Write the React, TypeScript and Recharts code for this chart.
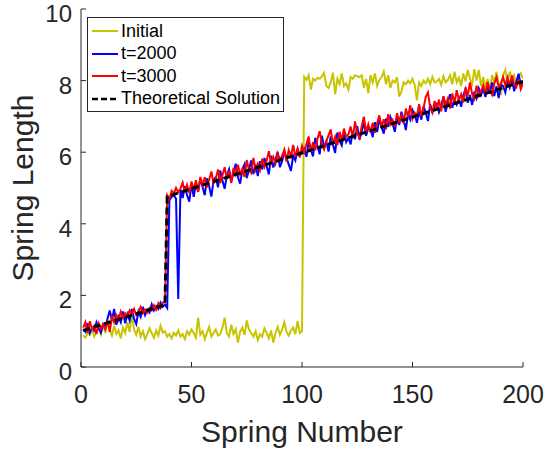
import { Legend, Line, LineChart, XAxis, YAxis } from 'recharts';

const FONT = '"Liberation Sans", Arial, Helvetica, sans-serif';
const INK = '#262626';

const YELLOW = '#c8c400';
const BLUE = '#0000ff';
const RED = '#ff0000';

// spring index 1..200
const springNumbers = Array.from({ length: 200 }, (_, i) => i + 1);

const xTicks = [0, 50, 100, 150, 200];
const yTicks = [0, 2, 4, 6, 8, 10];

// 200 springs each
const initialLengths = [
  0.88, 0.82, 0.95, 0.9, 1.05, 0.85, 0.98, 1.12, 0.92, 1.2,
  0.95, 1.3, 1.05, 0.88, 1.15, 0.92, 1.02, 0.8, 1.1, 0.95,
  1.25, 0.98, 1.48, 1.05, 0.9, 1.12, 0.85, 1.0, 0.78, 0.92,
  1.08, 0.95, 0.82, 1.02, 0.88, 1.15, 0.96, 1.0, 0.85, 0.92,
  0.8, 0.95, 0.88, 1.02, 0.85, 0.92, 0.78, 1.0, 0.9, 1.05,
  0.95, 0.82, 1.38, 0.9, 1.0, 0.78, 0.96, 1.12, 0.85, 0.95,
  1.05, 0.88, 0.92, 1.1, 1.38, 0.95, 0.85, 1.18, 0.92, 1.05,
  0.68, 0.98, 1.1, 0.9, 1.3, 1.05, 0.95, 0.85, 1.0, 0.75,
  0.92, 0.85, 1.08, 0.95, 0.8, 1.02, 0.68, 0.95, 1.12, 0.9,
  1.05, 1.25, 0.98, 0.88, 1.02, 1.1, 0.92, 1.28, 0.95, 1.0,
  8.1, 8.02, 8.15, 7.75, 8.05, 8.0, 8.08, 8.05, 8.12, 8.22,
  7.85, 7.8, 7.95, 8.22, 7.62, 8.05, 7.9, 8.2, 7.85, 7.92,
  7.75, 8.1, 8.05, 8.15, 8.12, 8.1, 8.15, 7.8, 8.05, 7.65,
  8.15, 7.95, 8.2, 7.85, 8.02, 8.1, 8.25, 7.9, 8.15, 7.8,
  8.0, 7.95, 8.1, 7.55, 7.7, 7.95, 7.9, 8.0, 7.92, 8.05,
  7.88, 7.45, 7.95, 7.85, 8.0, 7.92, 8.05, 7.9, 8.1, 7.95,
  7.98, 8.05, 7.88, 8.12, 7.95, 8.02, 8.15, 7.9, 8.25, 7.95,
  8.08, 7.85, 8.2, 7.98, 8.3, 8.05, 7.9, 8.32, 8.0, 8.3,
  7.85, 8.1, 7.8, 8.05, 7.7, 8.15, 7.95, 8.25, 7.9, 7.6,
  8.15, 8.3, 7.95, 8.25, 8.05, 8.15, 7.85, 8.1, 8.2, 8.05,
];

const t2000Lengths = [
  1.05, 0.98, 1.22, 0.95, 1.1, 1.02, 1.25, 1.08, 0.96, 1.2,
  1.12, 1.35, 1.58, 1.3, 1.62, 1.18, 1.4, 1.25, 1.55, 1.22,
  1.48, 1.3, 1.62, 1.35, 1.2, 1.55, 1.4, 1.68, 1.45, 1.6,
  1.52, 1.75, 1.58, 1.7, 1.62, 1.8, 1.68, 1.75, 1.65, 4.65,
  4.75, 4.8, 4.7, 1.9, 4.95, 4.72, 5.05, 4.8, 4.62, 5.12,
  4.75, 5.12, 4.89, 5.26, 5.03, 4.8, 5.27, 5.04, 4.76, 5.23,
  5.3, 5.02, 5.49, 5.21, 4.98, 5.35, 5.52, 5.19, 5.41, 5.68,
  5.3, 5.12, 5.49, 5.66, 5.28, 5.5, 5.77, 5.39, 5.66, 5.33,
  5.75, 5.52, 5.84, 5.61, 5.38, 5.9, 5.57, 5.79, 6.01, 5.58,
  5.75, 6.02, 5.84, 5.66, 5.48, 5.9, 5.77, 6.09, 5.91, 6.03,
  6.1, 5.87, 6.29, 6.06, 5.88, 6.4, 6.17, 5.94, 6.46, 6.13,
  6.3, 6.02, 6.44, 6.21, 5.98, 6.55, 6.32, 6.19, 6.56, 6.28,
  6.4, 6.22, 6.59, 6.36, 6.73, 6.35, 6.57, 6.84, 6.46, 6.68,
  6.65, 6.42, 6.84, 6.56, 6.93, 6.7, 6.52, 6.94, 6.71, 6.98,
  6.8, 6.57, 6.99, 6.76, 7.13, 6.9, 6.62, 7.09, 6.91, 7.18,
  7.05, 6.82, 7.14, 6.91, 7.28, 7.1, 6.87, 7.34, 7.11, 7.28,
  7.35, 7.12, 7.29, 7.56, 7.13, 7.4, 7.62, 7.24, 7.46, 7.33,
  7.5, 7.27, 7.59, 7.76, 7.38, 7.6, 7.32, 7.69, 7.51, 7.78,
  7.6, 7.77, 7.54, 7.86, 7.63, 7.95, 7.57, 7.84, 7.51, 7.88,
  7.85, 7.67, 7.99, 7.81, 8.08, 7.7, 7.97, 8.19, 7.86, 7.98,
];

const t3000Lengths = [
  1.1, 1.25, 0.95, 1.28, 1.05, 1.15, 0.92, 1.22, 1.08, 1.18,
  1.05, 1.3, 0.98, 1.4, 1.25, 1.45, 1.32, 1.55, 1.38, 1.5,
  1.42, 1.58, 1.48, 1.62, 1.45, 1.55, 1.68, 1.5, 1.6, 1.52,
  1.65, 1.58, 1.72, 1.6, 1.78, 1.65, 1.8, 1.82, 4.8, 4.7,
  4.92, 4.85, 5.0, 4.88, 4.98, 5.15, 4.87, 5.09, 4.86, 5.18,
  4.95, 5.22, 4.89, 5.31, 5.08, 5.3, 5.02, 5.24, 5.46, 5.13,
  5.25, 5.52, 5.14, 5.36, 5.58, 5.25, 5.47, 5.14, 5.56, 5.38,
  5.65, 5.37, 5.54, 5.31, 5.78, 5.5, 5.42, 5.84, 5.51, 5.68,
  5.5, 5.82, 5.59, 5.76, 6.03, 5.7, 5.87, 5.69, 5.96, 5.78,
  5.9, 6.07, 5.74, 6.06, 5.88, 6.2, 5.87, 6.09, 5.86, 6.18,
  6.0, 6.22, 6.44, 6.01, 6.28, 6.05, 6.37, 6.59, 6.21, 6.08,
  6.3, 6.47, 6.64, 6.21, 6.43, 6.2, 6.57, 6.34, 6.66, 6.43,
  6.5, 6.72, 6.39, 6.86, 6.53, 6.4, 6.72, 6.99, 6.56, 6.78,
  6.55, 6.82, 6.54, 6.81, 7.03, 6.7, 6.92, 6.64, 7.06, 6.78,
  6.9, 6.72, 7.09, 6.86, 7.03, 6.8, 7.22, 6.99, 7.31, 6.93,
  7.1, 7.02, 7.34, 7.01, 7.23, 7.55, 7.67, 7.24, 7.11, 7.43,
  7.2, 7.47, 7.14, 7.56, 7.33, 7.5, 7.22, 7.64, 7.36, 7.73,
  7.45, 7.62, 7.39, 7.81, 7.58, 7.95, 7.62, 7.49, 7.86, 7.58,
  7.7, 7.87, 7.64, 7.96, 7.73, 7.6, 7.92, 8.09, 7.81, 7.93,
  8.1, 7.87, 8.09, 7.87, 8.14, 7.9, 7.82, 8.04, 7.76, 7.93,
];

// theoretical solution: corner points of the dashed line
const theoryX = [1, 38, 39, 200];
const theoryY = [1.02, 1.74, 4.76, 7.98];

const toPoints = (xs: number[], ys: number[]) =>
  xs.map((x, i) => ({ x, y: ys[i] }));

const initialData = toPoints(springNumbers, initialLengths);
const t2000Data = toPoints(springNumbers, t2000Lengths);
const t3000Data = toPoints(springNumbers, t3000Lengths);
const theoryData = toPoints(theoryX, theoryY);

const legendItems = [
  { name: 'Initial', color: YELLOW, dash: undefined },
  { name: 't=2000', color: BLUE, dash: undefined },
  { name: 't=3000', color: RED, dash: undefined },
  { name: 'Theoretical Solution', color: '#000000', dash: '6 3' },
];

const BottomTick = ({ x, y, payload }: any) => (
  <g>
    <line x1={x} x2={x} y1={y} y2={y - 5} stroke={INK} />
    <text x={x} y={y + 36} textAnchor="middle" fontSize={25} fill={INK} fontFamily={FONT}>
      {payload.value}
    </text>
  </g>
);

const LeftTick = ({ x, y, payload }: any) => (
  <g>
    <line x1={x} x2={x + 5} y1={y} y2={y} stroke={INK} />
    <text x={x - 9} y={y + 13} textAnchor="end" fontSize={24} fill={INK} fontFamily={FONT}>
      {payload.value}
    </text>
  </g>
);

const TopTick = ({ x, y }: any) => (
  <line x1={x} x2={x} y1={y} y2={y + 5} stroke={INK} />
);

const RightTick = ({ x, y }: any) => (
  <line x1={x} x2={x - 5} y1={y} y2={y} stroke={INK} />
);

const XTitle = ({ viewBox }: any) => (
  <text
    x={viewBox.x + viewBox.width / 2}
    y={viewBox.y + viewBox.height - 10}
    textAnchor="middle"
    fontSize={30}
    fill={INK}
    fontFamily={FONT}
  >
    Spring Number
  </text>
);

const YTitle = ({ viewBox }: any) => {
  const cx = 33;
  const cy = viewBox.y + viewBox.height / 2;
  return (
    <text
      x={cx}
      y={cy}
      transform={`rotate(-90 ${cx} ${cy})`}
      textAnchor="middle"
      fontSize={30}
      fill={INK}
      fontFamily={FONT}
    >
      Spring Length
    </text>
  );
};

const LegendBox = () => (
  <div
    style={{
      border: `1px solid ${INK}`,
      background: '#fff',
      width: 195,
      padding: '2px 0 1px 0',
      fontFamily: FONT,
      fontSize: 18,
      color: '#000',
    }}
  >
    {legendItems.map((item) => (
      <div
        key={item.name}
        style={{ display: 'flex', alignItems: 'center', height: 22.5, whiteSpace: 'nowrap' }}
      >
        <svg width={26} height={10} style={{ marginLeft: 4, marginRight: 3 }}>
          <line
            x1={0}
            x2={26}
            y1={5}
            y2={5}
            stroke={item.color}
            strokeWidth={item.dash ? 2.5 : 2}
            strokeDasharray={item.dash}
          />
        </svg>
        <span>{item.name}</span>
      </div>
    ))}
  </div>
);

export default function App() {
  return (
    <div style={{ position: 'absolute', left: 0, top: 0, background: '#fff' }}>
      <LineChart
        width={548}
        height={452}
        margin={{ top: 9, right: 25, bottom: 0, left: 0 }}
      >
        <XAxis
          dataKey="x"
          type="number"
          domain={[0, 200]}
          ticks={xTicks}
          interval={0}
          height={85}
          tickSize={0}
          tickMargin={0}
          tickLine={false}
          axisLine={{ stroke: INK }}
          tick={(p: any) => <BottomTick {...p} />}
          label={(p: any) => <XTitle {...p} />}
          allowDataOverflow
        />
        <XAxis
          xAxisId="top"
          orientation="top"
          dataKey="x"
          type="number"
          domain={[0, 200]}
          ticks={xTicks}
          interval={0}
          height={0}
          tickSize={0}
          tickMargin={0}
          tickLine={false}
          axisLine={{ stroke: INK }}
          tick={(p: any) => <TopTick {...p} />}
          allowDataOverflow
        />
        <YAxis
          type="number"
          domain={[0, 10]}
          ticks={yTicks}
          interval={0}
          width={81}
          tickSize={0}
          tickMargin={0}
          tickLine={false}
          axisLine={{ stroke: INK }}
          tick={(p: any) => <LeftTick {...p} />}
          label={(p: any) => <YTitle {...p} />}
          allowDataOverflow
        />
        <YAxis
          yAxisId="right"
          orientation="right"
          type="number"
          domain={[0, 10]}
          ticks={yTicks}
          interval={0}
          width={0}
          tickSize={0}
          tickMargin={0}
          tickLine={false}
          axisLine={{ stroke: INK }}
          tick={(p: any) => <RightTick {...p} />}
          allowDataOverflow
        />
        <Legend
          layout="horizontal"
          verticalAlign="middle"
          align="center"
          content={() => <LegendBox />}
          wrapperStyle={{ left: 87, top: 17, width: 197, height: 'auto' }}
        />
        <Line
          data={initialData}
          dataKey="y"
          name="Initial"
          type="linear"
          stroke={YELLOW}
          strokeWidth={2}
          dot={false}
          isAnimationActive={false}
        />
        <Line
          data={t2000Data}
          dataKey="y"
          name="t=2000"
          type="linear"
          stroke={BLUE}
          strokeWidth={2}
          dot={false}
          isAnimationActive={false}
        />
        <Line
          data={t3000Data}
          dataKey="y"
          name="t=3000"
          type="linear"
          stroke={RED}
          strokeWidth={2}
          dot={false}
          isAnimationActive={false}
        />
        <Line
          data={theoryData}
          dataKey="y"
          name="Theoretical Solution"
          type="linear"
          stroke="#000000"
          strokeWidth={3}
          strokeDasharray="7 4"
          dot={false}
          isAnimationActive={false}
        />
      </LineChart>
    </div>
  );
}
